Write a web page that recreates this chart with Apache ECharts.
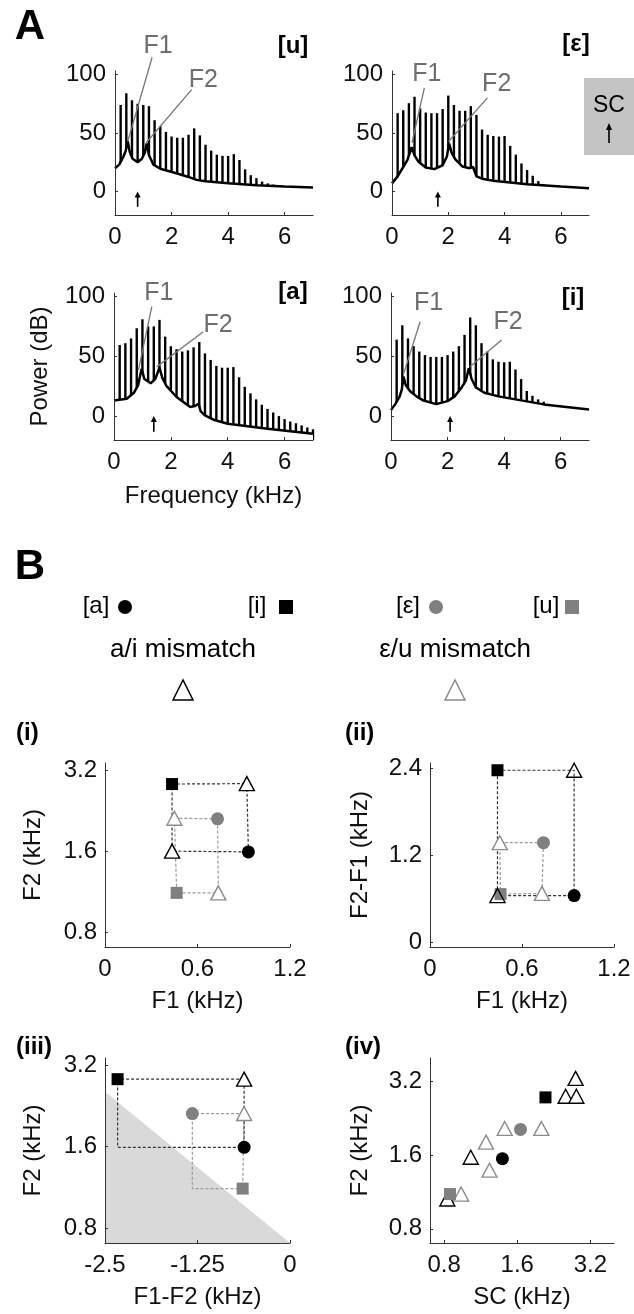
<!DOCTYPE html>
<html><head><meta charset="utf-8">
<script src="https://cdn.jsdelivr.net/npm/echarts@6/dist/echarts.min.js"></script>
<style>html,body{margin:0;padding:0;background:#fff}#c{width:634px;height:1314px}</style>
</head><body><div id="c"></div>
<script>
// ---------------- Panel A data (kHz, dB) ----------------
const harmFreq = [0.2,0.4,0.6,0.8,1.0,1.2,1.4,1.6,1.8,2.0,2.2,2.4,2.6,2.8,3.0,3.2,3.4,3.6,3.8,4.0,4.2,4.4,4.6,4.8,5.0,5.2,5.4,5.6,5.8,6.0,6.2,6.4,6.6,6.8,7.0];
const harmU = [74,84,78,75,74,73,61,56,51,47,46,46,48.5,54,48,40,35,31.5,30.5,30.5,32,27,19,14,11.5,8.5,7,6];
const harmE = [67,69.5,75.5,81,71,67.5,67,67,70.5,82,74,69,69,73,65.5,53,48.5,47.5,47,47.5,39,31.5,24,18.5,13.5,9,6];
const harmA = [59.5,61,65,73.5,81,75,75,80.5,66.5,58.5,56,54,55,57.5,62,52.5,47,42,40.5,40.5,41,32.5,24.5,19,14,9.5,6,3,0,-2.5,-4.5,-6,-7.8,-9.5,-11];
const harmI = [64,76,65,58.5,54,51,49.5,49.5,49.5,51,54,58.5,68,82.5,76,61,54,47.5,45.5,45,45.5,39,31,21,17,14,12,10,8];

const envUx = [0,0.15,0.3,0.38,0.45,0.52,0.62,0.8,0.95,1.05,1.12,1.2,1.36,1.6,2.2,2.6,2.88,2.95,3.2,4.0,5.0,6.0,7.0];
const envUy = [20,23,30,35,43,34,28,25,28,33,41,31,23,19.5,15.5,12.5,10,9.5,8.8,7.2,5.5,4.3,3.5];
const envEx = [0,0.2,0.4,0.55,0.7,0.8,0.94,1.2,1.5,1.8,1.95,2.03,2.12,2.25,2.5,2.75,2.88,3.0,3.2,3.6,4.8,6.0,7.0];
const envEy = [7,13,21,27,38,31,25.5,20.5,19.2,22.5,30,41,33,27.5,21.5,20,21,13,11,9.2,6.3,4.3,2.9];
const envAx = [0,0.45,0.7,0.85,0.97,1.07,1.29,1.45,1.6,1.7,1.85,2.2,2.68,2.85,2.97,3.05,3.2,3.5,4.0,5.4,7.0];
const envAy = [13,14.5,19.5,26,39.5,31,27.5,31,40.5,32,25,16,7.6,8.5,10.4,4,0.6,-3,-6.4,-10.6,-14.8];
const envIx = [0,0.15,0.3,0.38,0.44,0.52,0.67,0.9,1.15,1.6,2.0,2.25,2.5,2.65,2.75,2.85,3.0,3.3,3.8,4.4,5.4,7.0];
const envIy = [5,10,16,22,33,26,21,16.5,13,10,12.5,16.5,24,30,40,31,24,19.5,16.5,14,9.8,5.5];

const scArrow = [0.8, 1.63, 1.4, 2.09];           // u, ε, a, i (kHz)
const specXTicks = [0,2,4,6];
const specYTicks = [0,50,100];

// ---------------- Panel B data (kHz) ----------------
// vowel order: a, i, ε, u
const p1F1 = [0.93, 0.435, 0.73, 0.465];
const p1F2 = [1.59, 2.84, 2.11, 1.12];
const p1MisAI_F1 = [0.92, 0.435], p1MisAI_F2 = [2.85, 1.6];
const p1MisEU_F1 = [0.45, 0.735], p1MisEU_F2 = [2.12, 1.12];

const p2F1 = [0.94, 0.44, 0.74, 0.46];
const p2D  = [0.64, 2.37, 1.37, 0.66];
const p2MisAI_F1 = [0.94, 0.44], p2MisAI_D = [2.37, 0.64];
const p2MisEU_F1 = [0.455, 0.73], p2MisEU_D = [1.37, 0.67];

const p3X  = [-0.62, -2.33, -1.32, -0.64];
const p3F2 = [1.59, 2.84, 2.12, 1.12];
const p3MisAI_X = [-0.62], p3MisAI_F2 = [2.84];
const p3MisEU_X = [-0.62], p3MisEU_F2 = [2.12];
const p3ShadeX = [-2.5, 0, -2.5], p3ShadeY = [2.55, 0.705, 0.705];

const p4SC = [1.39, 2.09, 1.65, 0.846];
const p4F2 = [1.55, 2.76, 2.04, 1.11];
const p4MisAI_SC = [2.78, 2.53, 2.8, 1.03, 0.825], p4MisAI_F2 = [3.3, 2.79, 2.79, 1.57, 1.06];
const p4MisEU_SC = [1.42, 2.01, 1.19, 1.23, 0.94], p4MisEU_F2 = [2.06, 2.06, 1.81, 1.39, 1.11];

const logTicks = [0.8, 1.6, 3.2];
const f1Ticks = [0, 0.6, 1.2];
const dTicks = [0, 1.2, 2.4];
const dfTicks = [-2.5, -1.25, 0];

// ---------------- build ----------------
const FONT = '"Liberation Sans", Arial, Helvetica, sans-serif';
const L2 = Math.log2;
const AX = '#333', TXT = '#111', GRAY = '#808080', TRI_GRAY = '#8c8c8c';
const chart = echarts.init(document.getElementById('c'), null, {width:634, height:1314});

const grids = [
  {left:115, top:71, width:198, height:144},
  {left:392, top:71, width:197, height:144},
  {left:114, top:293, width:199, height:147},
  {left:391, top:293, width:198, height:147},
  {left:105, top:763, width:185, height:184},
  {left:430, top:763, width:184, height:184},
  {left:105, top:1058, width:185, height:185},
  {left:430, top:1058, width:184, height:185}
];

function axisBase(g, min, max, ticks, fmt, margin, extra) {
  return Object.assign({
    gridIndex:g, type:'value', min:min, max:max, z:5,
    axisLine:{show:true, onZero:false, lineStyle:{color:AX, width:1}},
    axisTick:{show:true, inside:true, length:3, customValues:ticks, lineStyle:{color:AX}},
    axisLabel:{customValues:ticks, formatter:fmt, fontSize:24, color:TXT, fontFamily:FONT, margin:margin},
    splitLine:{show:false}
  }, extra || {});
}
const plain = v => String(+(+v).toFixed(2));
const pow2 = v => Math.pow(2, v).toFixed(1);
const nameStyle = {fontSize:24, color:TXT, fontFamily:FONT};

const xAxes = [], yAxes = [];
for (let g = 0; g < 4; g++) {
  xAxes.push(axisBase(g, 0, 7, specXTicks, plain, 10,
    g === 2 ? {name:'Frequency (kHz)', nameLocation:'middle', nameGap:44, nameTextStyle:nameStyle} : {}));
  yAxes.push(axisBase(g, -20, 103, specYTicks, plain, 9,
    g === 2 ? {name:'Power (dB)', nameLocation:'middle', nameGap:62, nameTextStyle:nameStyle} : {}));
}
// (i)
xAxes.push(axisBase(4, 0, 1.2, f1Ticks, plain, 10, {name:'F1 (kHz)', nameLocation:'middle', nameGap:42, nameTextStyle:nameStyle}));
yAxes.push(axisBase(4, L2(0.705), L2(3.4), logTicks.map(L2), pow2, 8, {name:'F2 (kHz)', nameLocation:'middle', nameGap:60, nameTextStyle:nameStyle}));
// (ii)
xAxes.push(axisBase(5, 0, 1.2, f1Ticks, plain, 10, {name:'F1 (kHz)', nameLocation:'middle', nameGap:42, nameTextStyle:nameStyle}));
yAxes.push(axisBase(5, -0.07, 2.47, dTicks, plain, 8, {name:'F2-F1 (kHz)', nameLocation:'middle', nameGap:58, nameTextStyle:nameStyle}));
// (iii)
xAxes.push(axisBase(6, -2.5, 0, dfTicks, plain, 10, {name:'F1-F2 (kHz)', nameLocation:'middle', nameGap:42, nameTextStyle:nameStyle}));
yAxes.push(axisBase(6, L2(0.705), L2(3.4), logTicks.map(L2), pow2, 8, {name:'F2 (kHz)', nameLocation:'middle', nameGap:60, nameTextStyle:nameStyle}));
// (iv)
xAxes.push(axisBase(7, L2(0.7), L2(4.0), logTicks.map(L2), pow2, 10, {name:'SC (kHz)', nameLocation:'middle', nameGap:42, nameTextStyle:nameStyle}));
yAxes.push(axisBase(7, L2(0.7), L2(4.0), logTicks.map(L2), pow2, 8, {name:'F2 (kHz)', nameLocation:'middle', nameGap:58, nameTextStyle:nameStyle}));

const series = [];
function spectrum(g, tops, ex, ey, sc) {
  series.push({
    type:'custom', xAxisIndex:g, yAxisIndex:g, silent:true, z:2,
    data: tops.map((t, i) => [harmFreq[i], t]),
    renderItem: (p, api) => {
      const a = api.coord([api.value(0), api.value(1)]);
      const b = api.coord([api.value(0), -20]);
      return {type:'rect', shape:{x:a[0]-1.2, y:a[1], width:2.4, height:b[1]-a[1]}, style:{fill:'#000'}};
    }
  });
  series.push({
    type:'line', xAxisIndex:g, yAxisIndex:g, silent:true, z:3, symbol:'none',
    data: ex.map((x, i) => [x, ey[i]]),
    lineStyle:{color:'#000', width:2.5},
    areaStyle:{color:'#fff', opacity:1, origin:'start'}
  });
  series.push({
    type:'custom', xAxisIndex:g, yAxisIndex:g, silent:true, z:4,
    data: [[sc, 0, -13]],
    renderItem: (p, api) => {
      const a = api.coord([api.value(0), api.value(1)]);
      const b = api.coord([api.value(0), api.value(2)]);
      return {type:'group', children:[
        {type:'line', shape:{x1:a[0], y1:a[1]+4, x2:b[0], y2:b[1]}, style:{stroke:'#000', lineWidth:1.6}},
        {type:'polygon', shape:{points:[[a[0], a[1]], [a[0]-3, a[1]+6], [a[0]+3, a[1]+6]]}, style:{fill:'#000'}}
      ]};
    }
  });
}
spectrum(0, harmU, envUx, envUy, scArrow[0]);
spectrum(1, harmE, envEx, envEy, scArrow[1]);
spectrum(2, harmA, envAx, envAy, scArrow[2]);
spectrum(3, harmI, envIx, envIy, scArrow[3]);

function dashed(g, pts, color) {
  series.push({type:'line', xAxisIndex:g, yAxisIndex:g, silent:true, z:2, symbol:'none',
    data:pts, lineStyle:{color:color, width:1.2, type:[3,2]}});
}
function markers(g, pts, symbol, size, fill, stroke, z) {
  series.push({type:'scatter', xAxisIndex:g, yAxisIndex:g, silent:true, z:z, symbol:symbol, symbolSize:size,
    data:pts, itemStyle:{color:fill, borderColor:stroke || fill, borderWidth: stroke ? 1.4 : 0, opacity:1}});
}
function vowelMarkers(g, xs, ys) {
  markers(g, [[xs[0], ys[0]]], 'circle', 13, '#000', null, 5);
  markers(g, [[xs[1], ys[1]]], 'rect', 12, '#000', null, 5);
  markers(g, [[xs[2], ys[2]]], 'circle', 13, GRAY, null, 5);
  markers(g, [[xs[3], ys[3]]], 'rect', 12, GRAY, null, 5);
}
// (i)
{
  const Y = p1F2.map(L2), mY = p1MisAI_F2.map(L2), eY = p1MisEU_F2.map(L2);
  dashed(4, [[p1MisEU_F1[0], eY[0]], [p1F1[2], Y[2]], [p1MisEU_F1[1], eY[1]], [p1F1[3], Y[3]], [p1MisEU_F1[0], eY[0]]], '#9a9a9a');
  dashed(4, [[p1F1[1], Y[1]], [p1MisAI_F1[0], mY[0]], [p1F1[0], Y[0]], [p1MisAI_F1[1], mY[1]], [p1F1[1], Y[1]]], '#333');
  markers(4, p1MisEU_F1.map((x, i) => [x, eY[i]]), 'triangle', [15, 14], '#fff', TRI_GRAY, 3);
  markers(4, p1MisAI_F1.map((x, i) => [x, mY[i]]), 'triangle', [15, 14], '#fff', '#000', 3);
  vowelMarkers(4, p1F1, Y);
}
// (ii)
{
  dashed(5, [[p2MisEU_F1[0], p2MisEU_D[0]], [p2F1[2], p2D[2]], [p2MisEU_F1[1], p2MisEU_D[1]], [p2F1[3], p2D[3]], [p2MisEU_F1[0], p2MisEU_D[0]]], '#9a9a9a');
  dashed(5, [[p2F1[1], p2D[1]], [p2MisAI_F1[0], p2MisAI_D[0]], [p2F1[0], p2D[0]], [p2MisAI_F1[1], p2MisAI_D[1]], [p2F1[1], p2D[1]]], '#333');
  markers(5, p2MisEU_F1.map((x, i) => [x, p2MisEU_D[i]]), 'triangle', [15, 14], '#fff', TRI_GRAY, 3);
  vowelMarkers(5, p2F1, p2D);
  markers(5, p2MisAI_F1.map((x, i) => [x, p2MisAI_D[i]]), 'triangle', [15, 14], 'rgba(0,0,0,0)', '#000', 6);
}
// (iii)
{
  series.push({type:'custom', xAxisIndex:6, yAxisIndex:6, silent:true, z:1,
    data: p3ShadeX.map((x, i) => [x, L2(p3ShadeY[i])]),
    renderItem: (p, api) => {
      if (p.dataIndex !== 0) return null;
      const pts = p3ShadeX.map((x, i) => api.coord([x, L2(p3ShadeY[i])]));
      return {type:'polygon', shape:{points:pts}, style:{fill:'#d9d9d9'}};
    }});
  const Y = p3F2.map(L2), mY = p3MisAI_F2.map(L2), eY = p3MisEU_F2.map(L2);
  dashed(6, [[p3MisEU_X[0], eY[0]], [p3X[2], Y[2]], [p3X[2], Y[3]], [p3X[3], Y[3]], [p3MisEU_X[0], eY[0]]], '#9a9a9a');
  dashed(6, [[p3MisAI_X[0], mY[0]], [p3X[1], Y[1]], [p3X[1], Y[0]], [p3X[0], Y[0]], [p3MisAI_X[0], mY[0]]], '#333');
  markers(6, p3MisEU_X.map((x, i) => [x, eY[i]]), 'triangle', [15, 14], '#fff', TRI_GRAY, 3);
  markers(6, p3MisAI_X.map((x, i) => [x, mY[i]]), 'triangle', [15, 14], '#fff', '#000', 3);
  vowelMarkers(6, p3X, Y);
}
// (iv)
{
  markers(7, p4MisEU_SC.map((x, i) => [L2(x), L2(p4MisEU_F2[i])]), 'triangle', [15, 14], '#fff', TRI_GRAY, 3);
  markers(7, p4MisAI_SC.map((x, i) => [L2(x), L2(p4MisAI_F2[i])]), 'triangle', [15, 14], '#fff', '#000', 3);
  vowelMarkers(7, p4SC.map(L2), p4F2.map(L2));
}

chart.setOption({
  animation:false,
  backgroundColor:'#fff',
  textStyle:{fontFamily:FONT},
  grid:grids, xAxis:xAxes, yAxis:yAxes, series:series
});

// ---------------- annotations ----------------
const G = [];
function txt(x, y, s, size, opts) {
  G.push(Object.assign({type:'text', x:x, y:y, z:20, silent:true,
    style:Object.assign({text:s, fontSize:size, fontFamily:FONT, fill:'#000', align:'center', verticalAlign:'middle'}, (opts||{}).style || {})}, {}));
}
function bold(x, y, s, size, align) { txt(x, y, s, size, {style:{fontWeight:'bold', align:align || 'center'}}); }
bold(30, 27, 'A', 42);
bold(293, 46, '[u]', 24);
bold(576, 44, '[ε]', 24);
bold(293, 292, '[a]', 24);
bold(573, 298, '[i]', 24);
G.push({type:'rect', shape:{x:584, y:78, width:50, height:77}, style:{fill:'#c4c4c4'}, z:19, silent:true});
txt(609, 106, 'SC', 23);
G.push({type:'line', shape:{x1:609, y1:127, x2:609, y2:143}, style:{stroke:'#000', lineWidth:1.6}, z:20, silent:true});
G.push({type:'polygon', shape:{points:[[609,123],[606,130],[612,130]]}, style:{fill:'#000'}, z:20, silent:true});

// F1 / F2 labels, in data coordinates of each spectrum: [text x,y], [line start], [line end]
const fLabels = [
  [0, 'F1', [1.52, 124], [1.31, 114.5], [0.45, 42.8]],
  [0, 'F2', [3.12, 95.6], [2.71, 87.1], [1.10, 41.7]],
  [1, 'F1', [1.24, 100], [1.15, 88.5], [0.71, 41.7]],
  [1, 'F2', [3.72, 91.4], [3.39, 80], [2.01, 42.8]],
  [2, 'F1', [1.58, 103], [1.33, 91.6], [0.86, 38.4]],
  [2, 'F2', [3.66, 76.2], [3.14, 70.6], [1.50, 41.2]],
  [3, 'F1', [1.33, 94.7], [1.03, 79], [0.45, 35.6]],
  [3, 'F2', [4.14, 79], [3.91, 63.6], [2.79, 41.2]]
];
fLabels.forEach(([g, s, t, a, b]) => {
  const pt = chart.convertToPixel({gridIndex:g}, t);
  const pa = chart.convertToPixel({gridIndex:g}, a);
  const pb = chart.convertToPixel({gridIndex:g}, b);
  txt(pt[0], pt[1], s, 25, {style:{fill:'#6e6e6e'}});
  G.push({type:'line', shape:{x1:pa[0], y1:pa[1], x2:pb[0], y2:pb[1]}, style:{stroke:'#777', lineWidth:1.3}, z:20, silent:true});
});

bold(30, 567, 'B', 42);
txt(96, 606, '[a]', 24); G.push({type:'circle', shape:{cx:125, cy:607, r:7}, style:{fill:'#000'}, z:20});
txt(257, 606, '[i]', 24); G.push({type:'rect', shape:{x:279, y:600, width:14, height:14}, style:{fill:'#000'}, z:20});
txt(408, 606, '[ε]', 24); G.push({type:'circle', shape:{cx:436, cy:607, r:7}, style:{fill:GRAY}, z:20});
txt(546, 606, '[u]', 24); G.push({type:'rect', shape:{x:565, y:600, width:14, height:14}, style:{fill:GRAY}, z:20});
txt(183, 650, 'a/i mismatch', 26);
txt(455, 650, 'ε/u mismatch', 26);
G.push({type:'polygon', shape:{points:[[183,680],[173,700],[193,700]]}, style:{fill:'#fff', stroke:'#000', lineWidth:1.5}, z:20});
G.push({type:'polygon', shape:{points:[[455,680],[445,700],[465,700]]}, style:{fill:'#fff', stroke:TRI_GRAY, lineWidth:1.5}, z:20});
bold(16, 733, '(i)', 24, 'left');
bold(345, 733, '(ii)', 24, 'left');
bold(16, 1047, '(iii)', 24, 'left');
bold(345, 1047, '(iv)', 24, 'left');

chart.setOption({graphic:{elements:G}});
</script>
</body></html>
